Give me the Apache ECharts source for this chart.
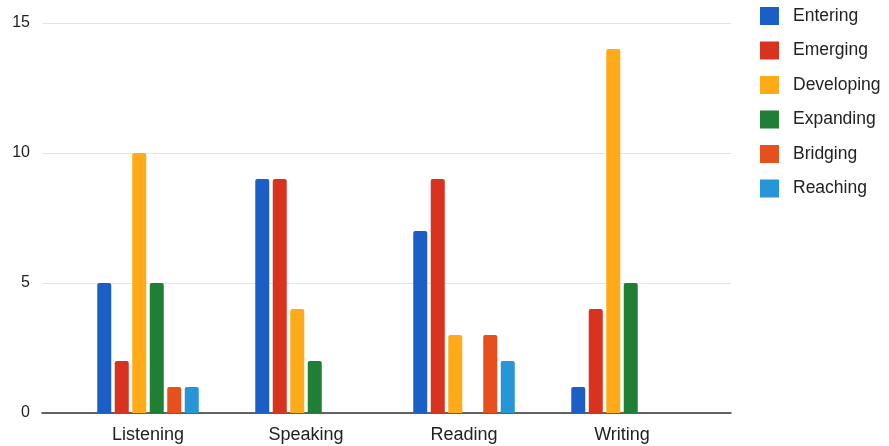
<!DOCTYPE html>
<html>
<head>
<meta charset="utf-8">
<script src="https://cdn.jsdelivr.net/npm/echarts@6/dist/echarts.min.js"></script>
<style>
html,body{margin:0;padding:0;background:#fff;}
#chart{width:889px;height:446px;}
</style>
</head>
<body>
<div id="chart"></div>
<script>
const categories = ['Listening', 'Speaking', 'Reading', 'Writing'];
const seriesNames = ['Entering', 'Emerging', 'Developing', 'Expanding', 'Bridging', 'Reaching'];
const entering   = [5, 9, 7, 1];
const emerging   = [2, 9, 9, 4];
const developing = [10, 4, 3, 14];
const expanding  = [5, 2, 0, 5];
const bridging   = [1, 0, 3, 0];
const reaching   = [1, 0, 2, 0];
const yTicks = [0, 5, 10, 15];

const colors = ['#1b5fc6', '#d9321f', '#ffab19', '#1f7f35', '#e5501c', '#2696d6'];
const values = [entering, emerging, developing, expanding, bridging, reaching];

const chart = echarts.init(document.getElementById('chart'));
const FONT = 'Liberation Sans, Arial, sans-serif';
chart.setOption({
  animation: false,
  backgroundColor: '#fff',
  textStyle: { fontFamily: FONT },
  legend: {
    orient: 'vertical',
    left: 760,
    top: 7,
    padding: 0,
    itemWidth: 19,
    itemHeight: 18,
    itemGap: 16.5,
    icon: 'rect',
    textStyle: { fontSize: 17.5, lineHeight: 18, color: '#222', fontFamily: FONT, padding: [0, 0, 0, 9] },
    data: seriesNames
  },
  grid: [
    { left: 42, right: 158, top: 23, bottom: 33 },
    { left: 69, width: 632, top: 23, bottom: 33 }
  ],
  xAxis: [
    {
      gridIndex: 0, type: 'value', min: 0, max: 1,
      axisLine: { show: true, lineStyle: { color: '#333', width: 1.5 } },
      axisTick: { show: false }, axisLabel: { show: false }, splitLine: { show: false }
    },
    {
      gridIndex: 1, type: 'category', data: categories,
      axisLine: { show: false }, axisTick: { show: false },
      axisLabel: { fontSize: 18, color: '#222', margin: 13, fontFamily: FONT }
    }
  ],
  yAxis: [
    {
      gridIndex: 0, type: 'value', min: yTicks[0], max: yTicks[yTicks.length - 1], interval: 5,
      axisLine: { show: false }, axisTick: { show: false },
      axisLabel: { fontSize: 16, color: '#222', margin: 12, fontFamily: FONT, padding: [6, 0, 0, 0] },
      splitLine: { show: true, lineStyle: { color: '#e4e4e4', width: 1 } }
    },
    {
      gridIndex: 1, type: 'value', min: 0, max: 15, interval: 5, show: false,
      splitLine: { show: false }
    }
  ],
  series: seriesNames.map((name, i) => ({
    name: name,
    type: 'bar',
    xAxisIndex: 1,
    yAxisIndex: 1,
    data: values[i],
    barWidth: 14,
    barGap: '25%',
    itemStyle: { color: colors[i], borderRadius: [2, 2, 0, 0] }
  }))
});
</script>
</body>
</html>
